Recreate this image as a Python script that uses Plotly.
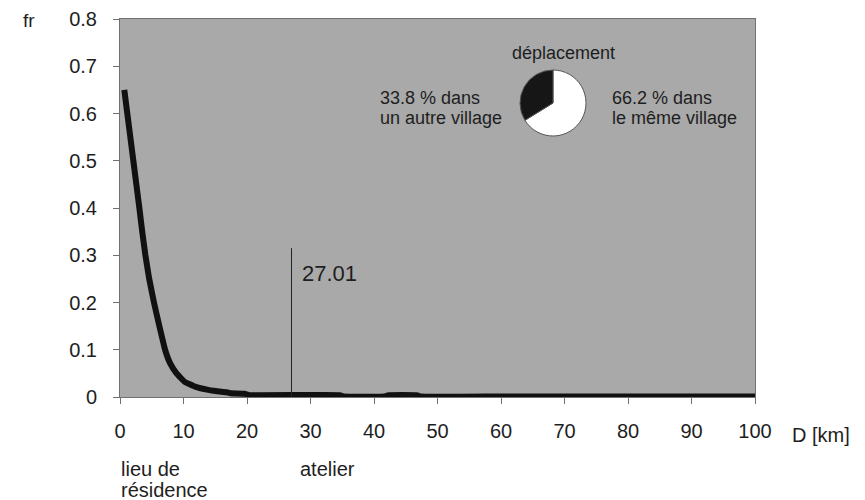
import plotly.graph_objects as go

# Data
D_km = [0.68, 1.15, 2.1, 3.05, 3.5, 4.0, 4.6, 5.35, 6.2, 7.1, 7.9, 8.9, 10.2, 11.8, 13.9,
        16.0, 16.8, 17.4, 19.6, 20.4, 34.6, 35.2, 41.7, 42.3, 46.7, 47.3, 60, 80, 100]
fr = [0.65, 0.60, 0.50, 0.40, 0.35, 0.30, 0.25, 0.20, 0.15, 0.10, 0.071, 0.05, 0.032, 0.022, 0.015,
      0.011, 0.010, 0.008, 0.007, 0.004, 0.004, 0.001, 0.001, 0.004, 0.004, 0.001, 0.001, 0.001, 0.001]

atelier_D = 27.01
atelier_top = 0.315

pie_labels = ["dans le même village", "dans un autre village"]
pie_values = [66.2, 33.8]

x_ticks = [0, 10, 20, 30, 40, 50, 60, 70, 80, 90, 100]
y_ticks = [0, 0.1, 0.2, 0.3, 0.4, 0.5, 0.6, 0.7, 0.8]
y_ticktext = ["0", "0.1", "0.2", "0.3", "0.4", "0.5", "0.6", "0.7", "0.8"]

FONT = "Liberation Sans, Arial, sans-serif"
TXT = "#1e1e1e"

# page offset of the figure (default body margin of the html page)
OFF = 8
# plot area in screen pixels
L, R, T, B = 120, 755, 19, 397
W, H = 865, 500


def px(x):
    return (x - L) / (R - L)


def py(y):
    return (B - y) / (B - T)


fig = go.Figure()
fig.add_trace(go.Scatter(x=D_km, y=fr, mode="lines",
                         line=dict(color="#111111", width=6, shape="spline", smoothing=0.3),
                         showlegend=False, hoverinfo="skip"))
fig.add_trace(go.Scatter(x=[atelier_D, atelier_D], y=[0, atelier_top], mode="lines",
                         line=dict(color="#222222", width=1), showlegend=False, hoverinfo="skip"))
fig.add_trace(go.Pie(labels=pie_labels, values=pie_values, sort=False,
                     direction="clockwise",
                     marker=dict(colors=["#ffffff", "#161616"], line=dict(color="#555555", width=1)),
                     textinfo="none", showlegend=False,
                     domain=dict(x=[px(553 - 33), px(553 + 33)], y=[py(103 + 33), py(103 - 33)])))

fig.update_layout(
    width=W, height=H,
    margin=dict(l=L - OFF, r=W - R + OFF, t=T - OFF, b=H - B + OFF, autoexpand=False),
    paper_bgcolor="white", plot_bgcolor="#a9a9a9",
    font=dict(family=FONT, size=20, color=TXT),
    xaxis=dict(range=[0, 100], tickvals=x_ticks, showgrid=False, zeroline=False,
               showline=True, linecolor="#707070", linewidth=1, mirror=True,
               ticks="outside", ticklen=6, tickcolor="#707070",
               ticklabelstandoff=10, automargin=False),
    yaxis=dict(range=[0, 0.8], tickvals=y_ticks, ticktext=y_ticktext, showgrid=False,
               zeroline=False, showline=True, linecolor="#707070", linewidth=1, mirror=True,
               ticks="outside", ticklen=6, tickcolor="#707070",
               ticklabelstandoff=12, automargin=False),
)

ann = [
    ("fr", 21, 20, "left", 19),
    ("D [km]", 790, 435, "left", 20),
    ("lieu de", 119, 469, "left", 20),
    ("résidence", 119, 490, "left", 20),
    ("atelier", 298, 469, "left", 20),
    ("27.01", 300, 273, "left", 22),
    ("déplacement", 563, 53, "center", 18),
    ("33.8 % dans", 378, 98, "left", 18),
    ("un autre village", 378, 118, "left", 18),
    ("66.2 % dans", 610, 98, "left", 18),
    ("le même village", 610, 118, "left", 18),
]
for text, x, y, xa, size in ann:
    fig.add_annotation(text=text, xref="paper", yref="paper", x=px(x), y=py(y),
                       xanchor=xa, yanchor="middle", showarrow=False,
                       font=dict(family=FONT, size=size, color=TXT))

fig.write_html("out.html")
